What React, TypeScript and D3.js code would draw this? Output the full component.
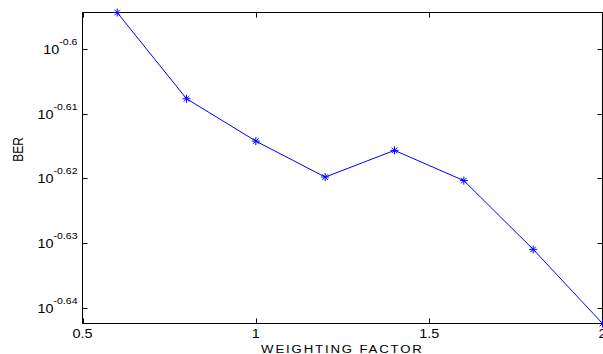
import { useEffect, useRef } from 'react'
import * as d3 from 'd3'

// weighting factor on x, BER on a log y axis
const weights = [0.6, 0.8, 1.0, 1.2, 1.4, 1.6, 1.8, 2.0]
const ber = [0.2545, 0.2468, 0.2431, 0.2400, 0.2423, 0.2397, 0.2339, 0.2278]
const xTicks = [0.5, 1, 1.5, 2]
const yTickExps = [-0.6, -0.61, -0.62, -0.63, -0.64]

const width = 603
const height = 354

export default function App() {
  const svgRef = useRef<SVGSVGElement>(null)

  useEffect(() => {
    if (!svgRef.current) return
    const svg = d3.select(svgRef.current)
    svg.selectAll('*').remove()

    const left = 82.5
    const right = 602.5
    const top = 12.5
    const bottom = 323.5

    const x = d3.scaleLinear().domain([0.5, 2]).range([left, right])
    const y = d3.scaleLog()
      .domain([d3.min(ber) as number, d3.max(ber) as number])
      .range([bottom, top])

    const font = 'Liberation Sans, Arial, sans-serif'
    // the original image is stretched sideways, so the glyphs are too
    const stretch = 1.2

    // ticks (inside, on all four sides like MATLAB's box)
    const tl = 5
    xTicks.forEach(t => {
      const px = Math.round(x(t)) + 0.5
      svg.append('line').attr('x1', px).attr('x2', px).attr('y1', bottom).attr('y2', bottom - tl)
        .attr('stroke', '#000').attr('stroke-width', 1)
      svg.append('line').attr('x1', px).attr('x2', px).attr('y1', top).attr('y2', top + tl)
        .attr('stroke', '#000').attr('stroke-width', 1)
      svg.append('text')
        .attr('transform', `translate(${x(t)},338) scale(${stretch},1)`)
        .attr('text-anchor', 'middle')
        .attr('font-family', font).attr('font-size', 12)
        .text(String(t))
    })

    yTickExps.forEach(e => {
      const py = Math.round(y(Math.pow(10, e))) + 0.5
      svg.append('line').attr('x1', left).attr('x2', left + tl).attr('y1', py).attr('y2', py)
        .attr('stroke', '#000').attr('stroke-width', 1)
      svg.append('line').attr('x1', right).attr('x2', right - tl).attr('y1', py).attr('y2', py)
        .attr('stroke', '#000').attr('stroke-width', 1)
      const label = svg.append('text')
        .attr('transform', `translate(77.5,${py + 4}) scale(${stretch},1)`)
        .attr('text-anchor', 'end')
        .attr('font-family', font).attr('font-size', 12)
      label.append('tspan').text('10')
      label.append('tspan')
        .attr('dy', -8.5).attr('font-size', 8.8)
        .text(String(e))
    })

    // axes box
    svg.append('rect')
      .attr('x', left).attr('y', top)
      .attr('width', right - left).attr('height', bottom - top)
      .attr('fill', 'none').attr('stroke', '#000').attr('stroke-width', 1)

    // data line
    const line = d3.line<number>()
      .x((d, i) => x(weights[i]))
      .y(d => y(d))

    svg.append('path')
      .datum(ber)
      .attr('d', line)
      .attr('fill', 'none')
      .attr('stroke', '#0000ff')
      .attr('stroke-width', 1)

    // asterisk markers
    const r = 4
    const k = r * 0.7
    const star = `M${-r},0L${r},0M0,${-r}L0,${r}M${-k},${-k}L${k},${k}M${-k},${k}L${k},${-k}`
    ber.forEach((d, i) => {
      svg.append('path')
        .attr('transform', `translate(${x(weights[i])},${y(d)})`)
        .attr('d', star)
        .attr('fill', 'none')
        .attr('stroke', '#0000ff')
        .attr('stroke-width', 1)
    })

    // axis titles
    svg.append('text')
      .attr('transform', `translate(${(left + right) / 2 - 1},353) scale(${stretch},1)`)
      .attr('text-anchor', 'middle')
      .attr('font-family', font).attr('font-size', 11)
      .attr('textLength', 134)
      .attr('lengthAdjust', 'spacing')
      .text('WEIGHTING FACTOR')

    svg.append('text')
      .attr('transform', `translate(23,149.5) scale(${stretch},1) rotate(-90)`)
      .attr('text-anchor', 'middle')
      .attr('font-family', font).attr('font-size', 12)
      .text('BER')
  }, [])

  return (
    <svg
      ref={svgRef}
      width={width}
      height={height}
      style={{ position: 'absolute', left: 0, top: 0, background: '#fff' }}
    />
  )
}
